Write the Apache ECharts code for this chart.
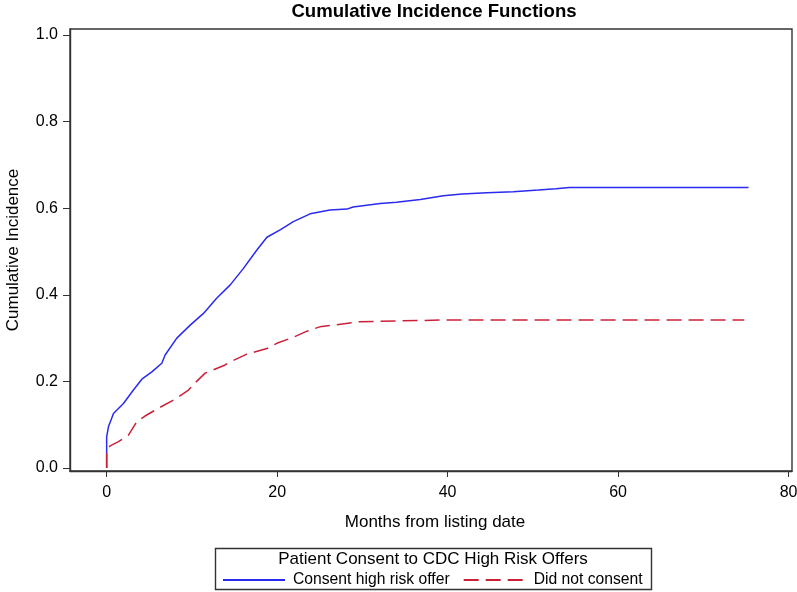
<!DOCTYPE html>
<html>
<head>
<meta charset="utf-8">
<script src="https://cdn.jsdelivr.net/npm/echarts@6/dist/echarts.min.js"></script>
<style>html,body{margin:0;padding:0;background:#fff;}#c{width:797px;height:592px;}</style>
</head>
<body>
<div id="c"></div>
<script>
const titleText = 'Cumulative Incidence Functions';
const xAxisName = 'Months from listing date';
const yAxisName = 'Cumulative Incidence';
const legendTitle = 'Patient Consent to CDC High Risk Offers';
const seriesNames = ['Consent high risk offer', 'Did not consent'];
const xTicks = [0, 20, 40, 60, 80];
const yTicks = [0, 0.2, 0.4, 0.6, 0.8, 1.0];

const consentMonths = [0,0,0.21,0.8,1.97,3.14,4.13,5.3,6.47,6.86,8.23,9.8,11.36,12.9,14.5,16.05,17.6,18.8,20.35,21.9,23.87,26.2,28.2,28.9,32.1,34.0,36.8,39.5,41.7,44.6,47.7,50.65,52.7,54.3,75.3];
const consentCIF =    [0,0.072,0.095,0.126,0.149,0.18,0.205,0.222,0.242,0.261,0.30,0.33,0.357,0.392,0.423,0.461,0.503,0.533,0.55,0.569,0.587,0.596,0.598,0.603,0.611,0.614,0.62,0.629,0.633,0.636,0.638,0.642,0.645,0.648,0.648];

const noConsentMonths = [0,0,0.41,1.39,2.56,3.54,4.5,6.08,8.03,9.6,10.4,11.55,13.9,14.5,16.45,18.8,19.96,21.9,23.5,25.0,26.6,29.7,40.3,74.8];
const noConsentCIF =    [0,0.042,0.051,0.061,0.076,0.107,0.12,0.138,0.159,0.18,0.197,0.219,0.238,0.245,0.263,0.276,0.288,0.302,0.316,0.326,0.330,0.338,0.342,0.342];

const zip = (a, b) => a.map((v, i) => [v, b[i]]);
const FONT = '"Liberation Sans", Arial, sans-serif';
const chart = echarts.init(document.getElementById('c'), null, {renderer: 'canvas'});
chart.setOption({
  animation: false,
  backgroundColor: '#fff',
  title: {
    text: titleText, left: 434, top: 2, padding: 0, textAlign: 'center',
    textStyle: {fontFamily: FONT, fontSize: 18.6, fontWeight: 'bold', color: '#000'}
  },
  grid: {left: 70, right: 5, top: 29, bottom: 121, show: true, borderColor: '#333', borderWidth: 1.4, backgroundColor: '#fff', outerBoundsMode: 'none', containLabel: false},
  xAxis: {
    type: 'value', min: -4.3, max: 80.4,
    name: xAxisName, nameLocation: 'middle', nameGap: 43,
    nameTextStyle: {fontFamily: FONT, fontSize: 17, color: '#000', padding: [0, 0, 0, 8]},
    axisLine: {show: true, onZero: false, lineStyle: {color: '#333', width: 1.4}},
    axisTick: {show: true, length: 6, lineStyle: {color: '#333'}, customValues: xTicks},
    axisLabel: {fontFamily: FONT, fontSize: 16, color: '#000', margin: 14, customValues: xTicks, formatter: v => String(Math.round(v))},
    splitLine: {show: false}
  },
  yAxis: {
    type: 'value', min: -0.007, max: 1.014,
    name: yAxisName, nameLocation: 'middle', nameGap: 48,
    nameTextStyle: {fontFamily: FONT, fontSize: 17, color: '#000'},
    axisLine: {show: true, onZero: false, lineStyle: {color: '#333', width: 1.4}},
    axisTick: {show: true, length: 7, lineStyle: {color: '#333'}, customValues: yTicks},
    axisLabel: {fontFamily: FONT, fontSize: 16, color: '#000', margin: 12, customValues: yTicks, formatter: v => v.toFixed(1)},
    splitLine: {show: false}
  },
  legend: {
    left: 222, top: 572, padding: 0, itemWidth: 62, itemHeight: 14, itemGap: 13,
    itemStyle: {opacity: 0},
    textStyle: {fontFamily: FONT, fontSize: 15.7, color: '#000', padding: [0, 0, 0, 3]},
    data: seriesNames
  },
  graphic: [
    {type: 'rect', shape: {x: 215.5, y: 548.5, width: 436, height: 41}, style: {fill: 'none', stroke: '#333', lineWidth: 1.4}, z: 10},
    {type: 'text', x: 433, y: 559, style: {text: legendTitle, font: '17px ' + FONT, fill: '#000', textAlign: 'center', textVerticalAlign: 'middle'}, z: 10}
  ],
  series: [
    {
      name: seriesNames[0], type: 'line', showSymbol: false, symbol: 'none',
      data: zip(consentMonths, consentCIF),
      lineStyle: {color: '#2a2af0', width: 1.5},
      itemStyle: {color: '#2a2af0'}
    },
    {
      name: seriesNames[1], type: 'line', showSymbol: false, symbol: 'none',
      data: zip(noConsentMonths, noConsentCIF),
      lineStyle: {color: '#cc2038', width: 1.5, type: [15, 7]},
      itemStyle: {color: '#cc2038'}
    }
  ]
});
</script>
</body>
</html>
